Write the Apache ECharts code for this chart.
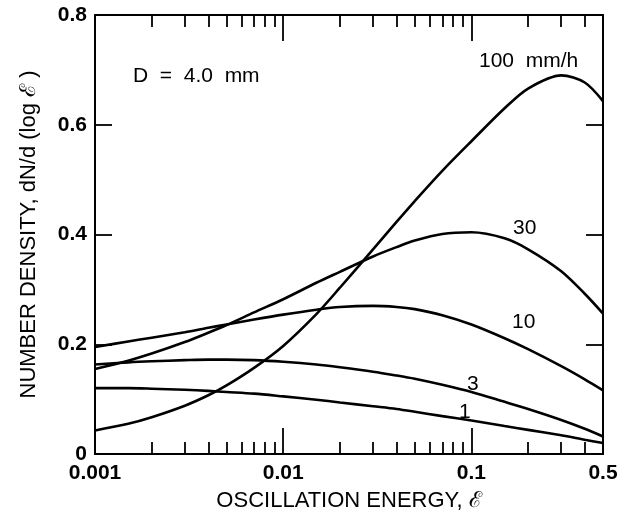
<!DOCTYPE html>
<html><head><meta charset="utf-8">
<script src="https://cdn.jsdelivr.net/npm/echarts@6/dist/echarts.min.js"></script>
<style>html,body{margin:0;padding:0;background:#fff}#c{width:629px;height:517px}</style>
</head><body><div id="c"></div>
<script>
// Oscillation energy grid (x values)
const energy  = [0.001, 0.0015, 0.002, 0.003, 0.004, 0.005, 0.007, 0.01, 0.015, 0.02, 0.03, 0.04, 0.05, 0.07, 0.1, 0.15, 0.2, 0.3, 0.4, 0.5];
// Number density for each rain rate
const rate1   = [0.120, 0.120, 0.119, 0.117, 0.115, 0.113, 0.110, 0.105, 0.099, 0.094, 0.087, 0.082, 0.077, 0.069, 0.061, 0.051, 0.044, 0.034, 0.026, 0.020];
const rate3   = [0.163, 0.167, 0.169, 0.171, 0.172, 0.172, 0.171, 0.168, 0.163, 0.158, 0.150, 0.143, 0.137, 0.126, 0.113, 0.095, 0.082, 0.062, 0.046, 0.032];
const rate10  = [0.195, 0.205, 0.212, 0.222, 0.230, 0.236, 0.245, 0.254, 0.263, 0.268, 0.270, 0.268, 0.264, 0.253, 0.236, 0.211, 0.191, 0.160, 0.136, 0.116];
const rate30  = [0.155, 0.170, 0.183, 0.204, 0.221, 0.235, 0.258, 0.282, 0.312, 0.332, 0.360, 0.377, 0.389, 0.401, 0.404, 0.393, 0.373, 0.333, 0.292, 0.256];
const rate100 = [0.043, 0.055, 0.067, 0.088, 0.107, 0.125, 0.157, 0.197, 0.255, 0.303, 0.373, 0.423, 0.461, 0.516, 0.570, 0.630, 0.666, 0.690, 0.677, 0.643];
const seriesNames = ['1', '3', '10', '30', '100 mm/h'];
// Axis ticks
const xLabelValues = [0.001, 0.01, 0.1, 0.5];
const xLabelTexts = ['0.001', '0.01', '0.1', '0.5'];
const xMajorTicks = [0.01, 0.1];
const xMinorTicks = [0.002,0.003,0.004,0.005,0.006,0.007,0.008,0.009,0.02,0.03,0.04,0.05,0.06,0.07,0.08,0.09,0.2,0.3,0.4];
const yTickValues = [0, 0.2, 0.4, 0.6, 0.8];
const yTickTexts = ['0', '0.2', '0.4', '0.6', '0.8'];

const FONT = '"Liberation Sans", Arial, Helvetica, sans-serif';
const LMIN = Math.log10(0.001), LMAX = Math.log10(0.5);
const lg = v => Math.log10(v);
const labelFor = v => { let best = 0, d = 1e9; xLabelValues.forEach((x, i) => { const dd = Math.abs(lg(x) - v); if (dd < d) { d = dd; best = i; } }); return xLabelTexts[best]; };

function tickAxis(pos, values, len, withLine, withLabels) {
  return {
    type: 'value', position: pos, min: LMIN, max: LMAX, gridIndex: 0,
    axisLine: { show: withLine, onZero: false, lineStyle: { color: '#000', width: 2 } },
    axisTick: { show: true, inside: true, length: len, customValues: values.map(lg), lineStyle: { color: '#000', width: 1.8 } },
    axisLabel: withLabels ? { show: true, customValues: xLabelValues.map(lg), formatter: labelFor, fontSize: 21, fontWeight: 'bold', fontFamily: FONT, color: '#000', margin: 9 } : { show: false },
    splitLine: { show: false }
  };
}

const xAxes = [
  { type: 'log', logBase: 10, min: 0.001, max: 0.5, show: false, gridIndex: 0 },
  Object.assign(tickAxis('bottom', xMajorTicks, 26, true, true), {
    name: 'OSCILLATION ENERGY, ℰ', nameLocation: 'middle', nameGap: 36,
    nameTextStyle: { fontSize: 22, fontFamily: FONT, color: '#000' }
  }),
  tickAxis('bottom', xMinorTicks, 12, false, false),
  tickAxis('top', xMajorTicks, 26, true, false),
  tickAxis('top', xMinorTicks, 12, false, false)
];

const yAxes = [
  {
    type: 'value', position: 'left', min: 0, max: 0.8, interval: 0.2,
    axisLine: { show: true, onZero: false, lineStyle: { color: '#000', width: 2 } },
    axisTick: { show: true, inside: true, length: 17, lineStyle: { color: '#000', width: 1.8 } },
    axisLabel: { fontSize: 21, fontWeight: 'bold', fontFamily: FONT, color: '#000', margin: 8,
      formatter: v => yTickTexts[yTickValues.findIndex(t => Math.abs(t - v) < 1e-6)] },
    splitLine: { show: false },
    name: 'NUMBER DENSITY, dN/d (log ℰ )', nameLocation: 'middle', nameRotate: 90, nameGap: 55,
    nameTextStyle: { fontSize: 22, fontFamily: FONT, color: '#000' }
  },
  {
    type: 'value', position: 'right', min: 0, max: 0.8, interval: 0.2,
    axisLine: { show: true, onZero: false, lineStyle: { color: '#000', width: 2 } },
    axisTick: { show: true, inside: true, length: 17, lineStyle: { color: '#000', width: 1.8 } },
    axisLabel: { show: false }, splitLine: { show: false }
  }
];

const allRates = [rate1, rate3, rate10, rate30, rate100];
const series = allRates.map((r, i) => ({
  name: seriesNames[i], type: 'line', xAxisIndex: 0, yAxisIndex: 0,
  data: energy.map((e, k) => [e, r[k]]),
  showSymbol: false, smooth: 0.3, z: 3,
  lineStyle: { color: '#000', width: 2.6 }
}));

const txt = (text, left, top) => ({ type: 'text', left, top, style: { text, fontSize: 21, fontFamily: FONT, fill: '#000' } });

const chart = echarts.init(document.getElementById('c'), null, { renderer: 'canvas' });
chart.setOption({
  animation: false,
  backgroundColor: '#fff',
  grid: { left: 95, right: 26, top: 15, bottom: 61, containLabel: false },
  xAxis: xAxes,
  yAxis: yAxes,
  series,
  graphic: [
    txt('D  =  4.0  mm', 133, 66),
    txt('100  mm/h', 479, 51),
    txt('30', 513, 218),
    txt('10', 512, 312),
    txt('3', 467, 374),
    txt('1', 459, 402)
  ]
});
</script></body></html>
